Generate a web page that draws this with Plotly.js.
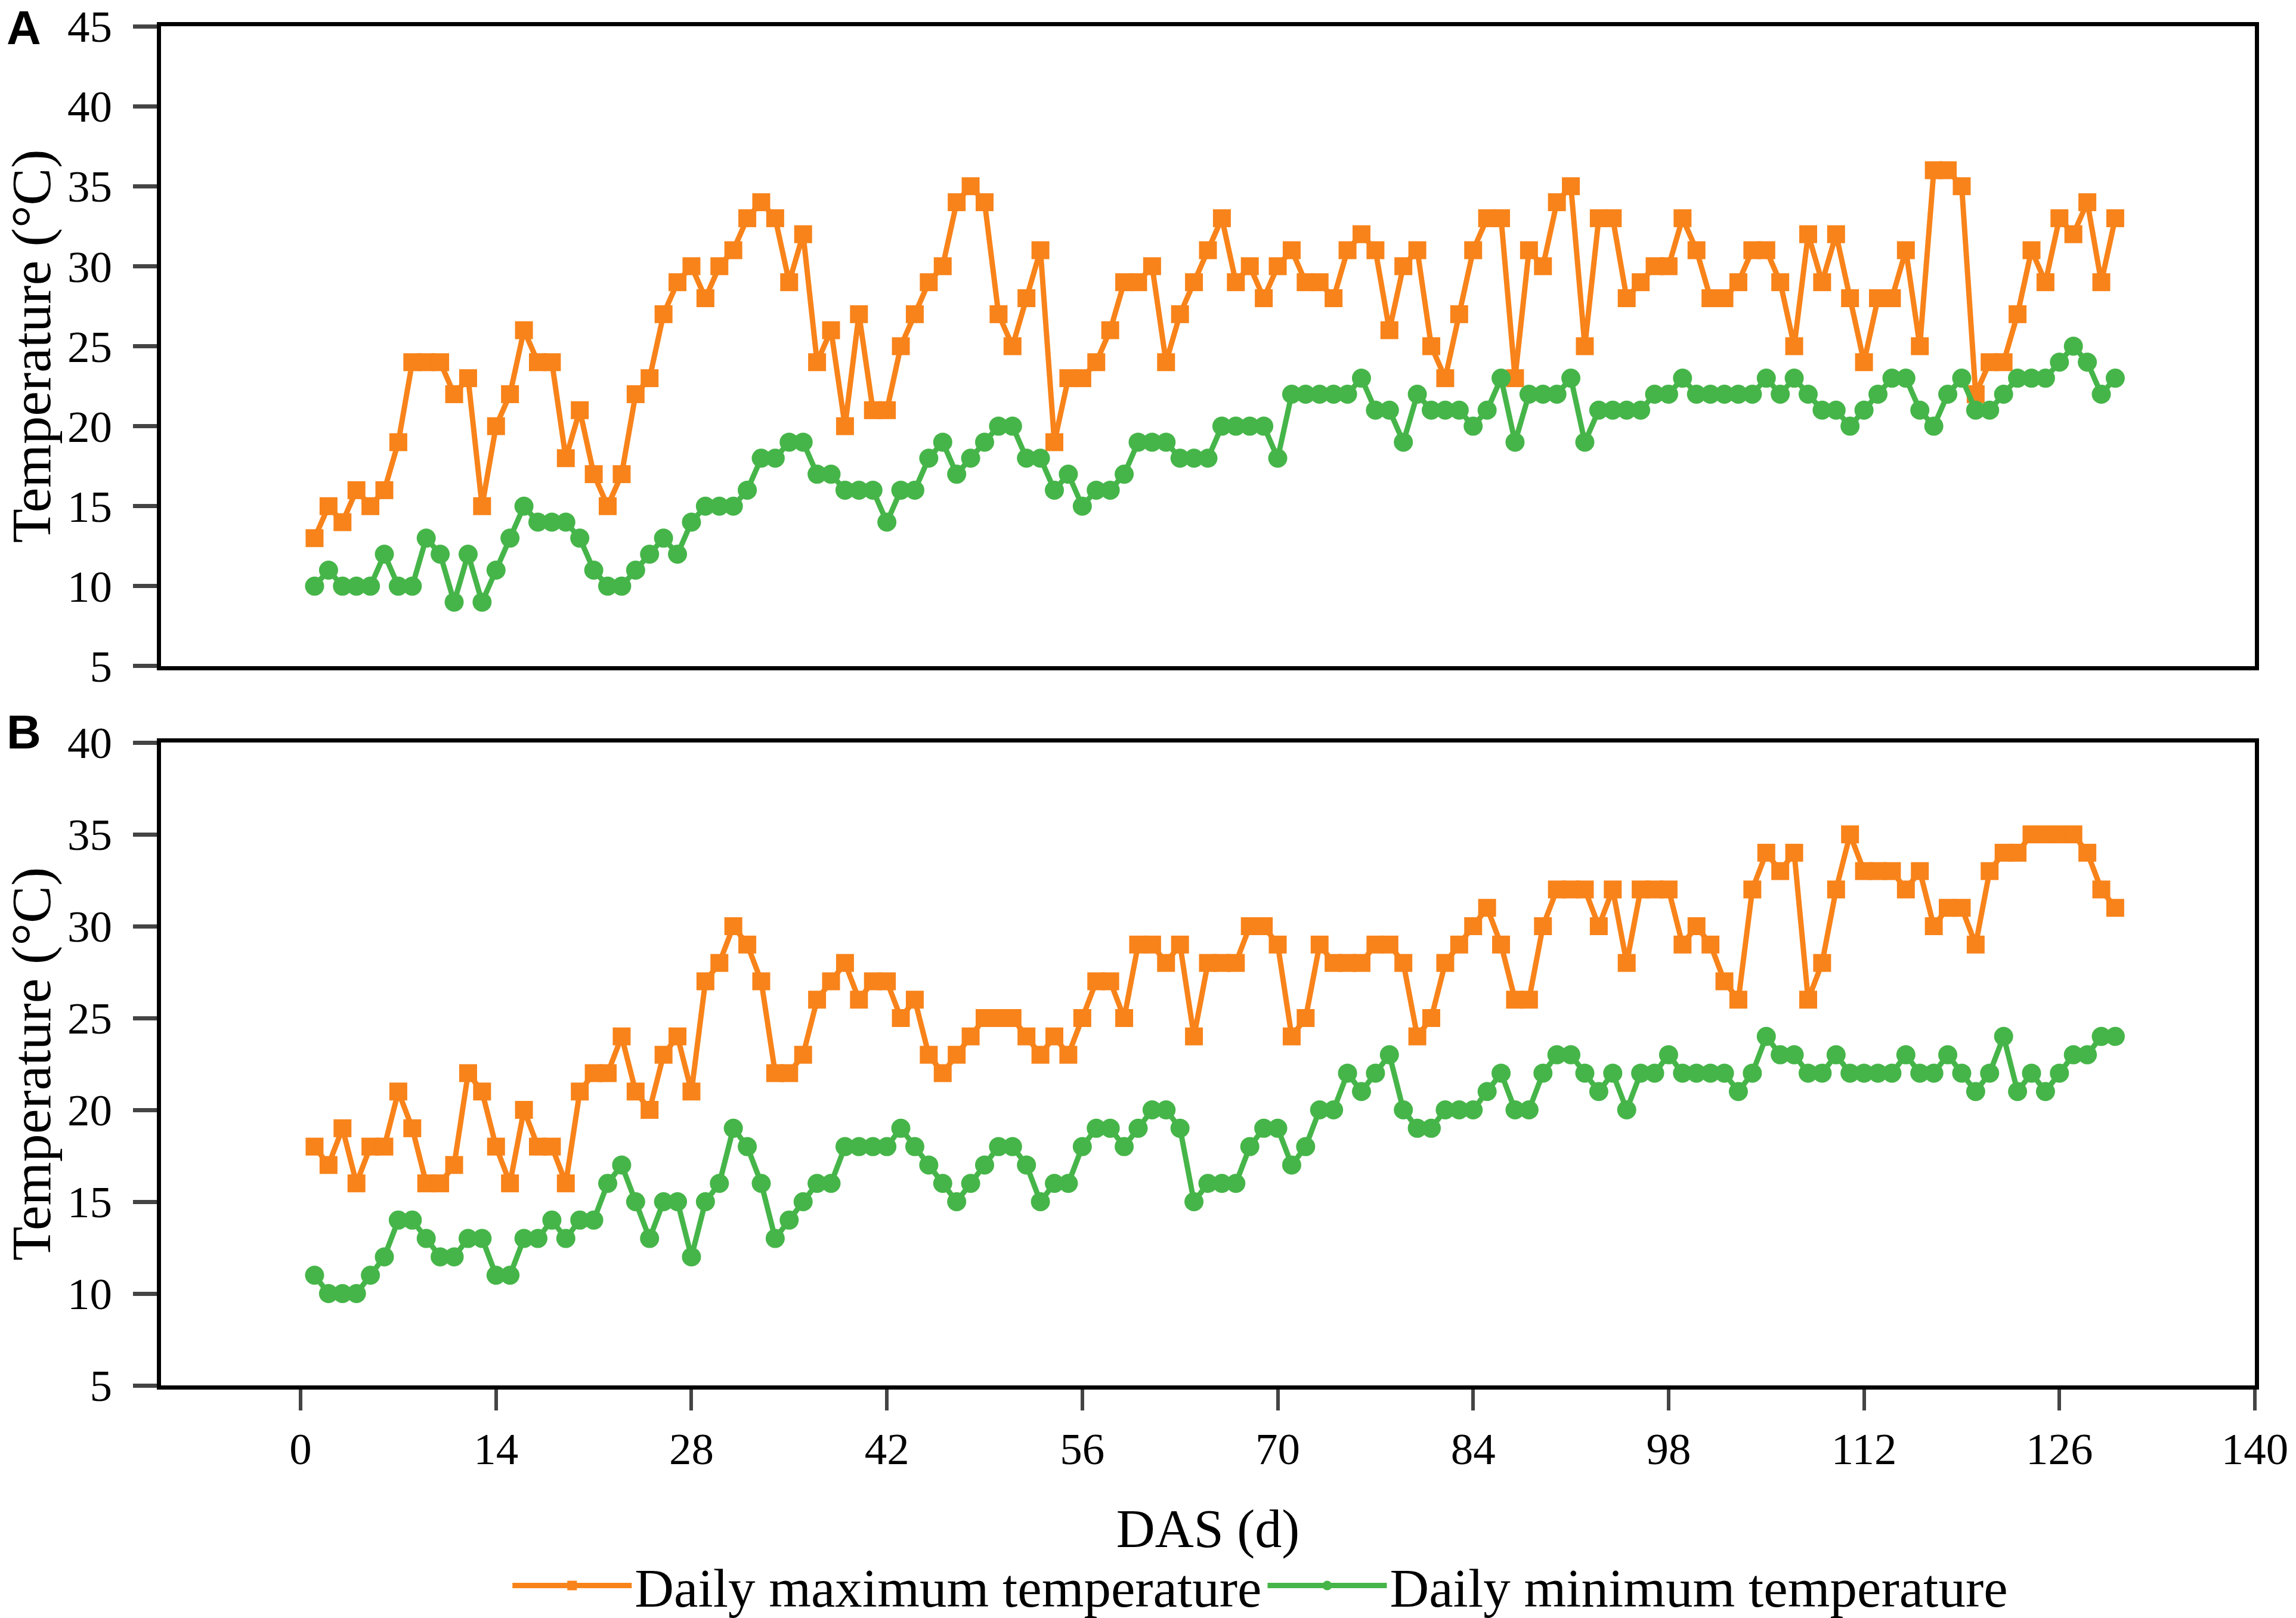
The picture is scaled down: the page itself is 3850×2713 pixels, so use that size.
<!DOCTYPE html>
<html>
<head>
<meta charset="utf-8">
<script src="https://cdn.plot.ly/plotly-3.0.1.min.js"></script>
<style>
  html, body { margin: 0; padding: 0; background: #fff; }
  #myDiv { width: 3850px; height: 2713px; }
</style>
</head>
<body>
<div id="myDiv"></div>
<script>
// days after sowing
var days = [1,2,3,4,5,6,7,8,9,10,11,12,13,14,15,16,17,18,19,20,
  21,22,23,24,25,26,27,28,29,30,31,32,33,34,35,36,37,38,39,40,
  41,42,43,44,45,46,47,48,49,50,51,52,53,54,55,56,57,58,59,60,
  61,62,63,64,65,66,67,68,69,70,71,72,73,74,75,76,77,78,79,80,
  81,82,83,84,85,86,87,88,89,90,91,92,93,94,95,96,97,98,99,100,
  101,102,103,104,105,106,107,108,109,110,111,112,113,114,115,116,117,118,119,120,
  121,122,123,124,125,126,127,128,129,130];

// panel A
var maxA = [13,15,14,16,15,16,19,24,24,24, 22,23,15,20,22,26,24,24,18,21,
  17,15,17,22,23,27,29,30,28,30, 31,33,34,33,29,32,24,26,20,27,
  21,21,25,27,29,30,34,35,34,27, 25,28,31,19,23,23,24,26,29,29,
  30,24,27,29,31,33,29,30,28,30, 31,29,29,28,31,32,31,26,30,31,
  25,23,27,31,33,33,23,31,30,34, 35,25,33,33,28,29,30,30,33,31,
  28,28,29,31,31,29,25,32,29,32, 28,24,28,28,31,25,36,36,35,22,
  24,24,27,31,29,33,32,34,29,33];
var minA = [10,11,10,10,10,12,10,10,13,12, 9,12,9,11,13,15,14,14,14,13,
  11,10,10,11,12,13,12,14,15,15, 15,16,18,18,19,19,17,17,16,16,
  16,14,16,16,18,19,17,18,19,20, 20,18,18,16,17,15,16,16,17,19,
  19,19,18,18,18,20,20,20,20,18, 22,22,22,22,22,23,21,21,19,22,
  21,21,21,20,21,23,19,22,22,22, 23,19,21,21,21,21,22,22,23,22,
  22,22,22,22,23,22,23,22,21,21, 20,21,22,23,23,21,20,22,23,21,
  21,22,23,23,23,24,25,24,22,23];

// panel B
var maxB = [18,17,19,16,18,18,21,19,16,16, 17,22,21,18,16,20,18,18,16,21,
  22,22,24,21,20,23,24,21,27,28, 30,29,27,22,22,23,26,27,28,26,
  27,27,25,26,23,22,23,24,25,25, 25,24,23,24,23,25,27,27,25,29,
  29,28,29,24,28,28,28,30,30,29, 24,25,29,28,28,28,29,29,28,24,
  25,28,29,30,31,29,26,26,30,32, 32,32,30,32,28,32,32,32,29,30,
  29,27,26,32,34,33,34,26,28,32, 35,33,33,33,32,33,30,31,31,29,
  33,34,34,35,35,35,35,34,32,31];
var minB = [11,10,10,10,11,12,14,14,13,12, 12,13,13,11,11,13,13,14,13,14,
  14,16,17,15,13,15,15,12,15,16, 19,18,16,13,14,15,16,16,18,18,
  18,18,19,18,17,16,15,16,17,18, 18,17,15,16,16,18,19,19,18,19,
  20,20,19,15,16,16,16,18,19,19, 17,18,20,20,22,21,22,23,20,19,
  19,20,20,20,21,22,20,20,22,23, 23,22,21,22,20,22,22,23,22,22,
  22,22,21,22,24,23,23,22,22,23, 22,22,22,22,23,22,22,23,22,21,
  22,24,21,22,21,22,23,23,24,24];

var xTicks = [0,14,28,42,56,70,84,98,112,126,140];
var yTicksA = [5,10,15,20,25,30,35,40,45];
var yTicksB = [5,10,15,20,25,30,35,40];

var orange = '#F8831A';
var green = '#46B549';
var serif = 'Liberation Serif, Times New Roman, serif';
var sans = 'Liberation Sans, Arial, sans-serif';

function maxTrace(y, xa, ya, show) {
  return {
    x: days, y: y, xaxis: xa, yaxis: ya,
    type: 'scatter', mode: 'lines+markers',
    name: 'Daily maximum temperature',
    showlegend: show, legendgroup: 'max',
    line: {color: orange, width: 9},
    marker: {symbol: 'square', size: 30, color: orange}
  };
}
function minTrace(y, xa, ya, show) {
  return {
    x: days, y: y, xaxis: xa, yaxis: ya,
    type: 'scatter', mode: 'lines+markers',
    name: 'Daily minimum temperature',
    showlegend: show, legendgroup: 'min',
    line: {color: green, width: 9},
    marker: {symbol: 'circle', size: 32, color: green}
  };
}

var data = [
  maxTrace(maxA, 'x', 'y', true),
  minTrace(minA, 'x', 'y', true),
  maxTrace(maxB, 'x2', 'y2', false),
  minTrace(minB, 'x2', 'y2', false)
];

var frame = {
  showline: true, linecolor: '#000', linewidth: 7, mirror: true,
  showgrid: false, zeroline: false
};

var layout = {
  width: 3850,
  height: 2713,
  paper_bgcolor: '#fff',
  plot_bgcolor: '#fff',
  margin: {l: 270, r: 69, t: 44, b: 390, autoexpand: false},
  font: {family: serif, color: '#000', size: 75},
  showlegend: true,
  legend: {
    orientation: 'h',
    x: 0.525, xanchor: 'center',
    y: -0.1474, yanchor: 'middle',
    font: {family: serif, size: 91, color: '#000'},
    itemwidth: 200,
    itemsizing: 'trace'
  },

  // panel A (top)
  xaxis: Object.assign({}, frame, {
    anchor: 'y', range: [-10, 140],
    tickvals: xTicks, showticklabels: false, ticks: ''
  }),
  yaxis: Object.assign({}, frame, {
    anchor: 'x', domain: [0.5292, 1], range: [5, 45],
    tickvals: yTicksA, ticks: 'outside', ticklen: 40, tickwidth: 7,
    ticklabelstandoff: 20, ticklabeloverflow: 'allow',
    tickfont: {family: serif, size: 75},
    title: {text: 'Temperature (°C)', font: {family: serif, size: 94}, standoff: 6}
  }),

  // panel B (bottom)
  xaxis2: Object.assign({}, frame, {
    anchor: 'y2', range: [-10, 140],
    tickvals: xTicks, ticks: 'outside', ticklen: 35, tickwidth: 6,
    ticklabelstandoff: 0,
    tickfont: {family: serif, size: 75},
    title: {text: 'DAS (d)', font: {family: serif, size: 90}, standoff: 63}
  }),
  yaxis2: Object.assign({}, frame, {
    anchor: 'x2', domain: [0, 0.473], range: [5, 40],
    tickvals: yTicksB, ticks: 'outside', ticklen: 40, tickwidth: 7,
    ticklabelstandoff: 20,
    tickfont: {family: serif, size: 75},
    title: {text: 'Temperature (°C)', font: {family: serif, size: 94}, standoff: 6}
  }),

  annotations: [
    {text: '<b>A</b>', xref: 'paper', yref: 'paper', x: -0.0655, y: 0.9987,
     xanchor: 'center', yanchor: 'middle', showarrow: false,
     font: {family: sans, size: 80, color: '#000'}},
    {text: '<b>B</b>', xref: 'paper', yref: 'paper', x: -0.0655, y: 0.4805,
     xanchor: 'center', yanchor: 'middle', showarrow: false,
     font: {family: sans, size: 80, color: '#000'}}
  ]
};

Plotly.newPlot('myDiv', data, layout, {staticPlot: true});
</script>
</body>
</html>
